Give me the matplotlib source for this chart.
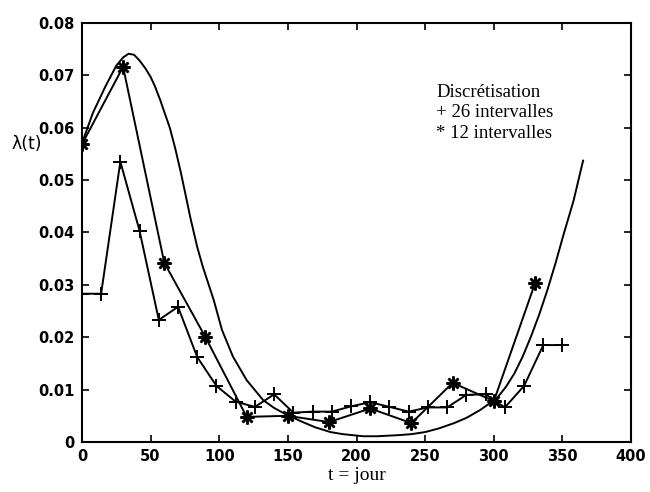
import numpy as np
import matplotlib
matplotlib.use('Agg')
from matplotlib import pyplot as plt

# courbe continue lambda(t)
t_smooth = [0, 8, 17, 25, 30, 34, 38, 42, 46, 50, 53, 57, 60, 64, 68, 72, 75,
            79, 84, 88, 96, 102, 110, 120, 132, 140, 147, 160, 170, 181, 190,
            205, 215, 230, 240, 250, 260, 271, 280, 290, 296, 303, 309, 315,
            321, 327, 333, 339, 345, 351, 358, 365]
lam_smooth = [0.0570, 0.0628, 0.0678, 0.0718, 0.0734, 0.0741, 0.0739, 0.0728,
              0.0714, 0.0697, 0.0680, 0.0653, 0.0630, 0.0600, 0.0560, 0.0515,
              0.0478, 0.0428, 0.0372, 0.0335, 0.0271, 0.0214, 0.0163, 0.0118,
              0.0080, 0.0065, 0.0055, 0.0039, 0.0028, 0.0019, 0.0015, 0.0011,
              0.0011, 0.0013, 0.0015, 0.0019, 0.0026, 0.0036, 0.0046, 0.0061,
              0.0072, 0.0086, 0.0106, 0.0131, 0.0163, 0.0201, 0.0243, 0.0290,
              0.0342, 0.0398, 0.0460, 0.0537]

# discretisation 26 intervalles (+)
t_26 = [0, 14, 28, 42, 56, 70, 84, 98, 112, 126, 140, 154, 168, 182, 196,
        210, 224, 238, 252, 266, 280, 294, 308, 322, 336, 350]
lam_26 = [0.0283, 0.0283, 0.0535, 0.0403, 0.0233, 0.0258, 0.0162, 0.0107,
          0.0077, 0.0067, 0.0091, 0.0056, 0.0058, 0.0058, 0.0068, 0.0076,
          0.0067, 0.0058, 0.0066, 0.0066, 0.0090, 0.0091, 0.0066, 0.0107,
          0.0185, 0.0185]

# discretisation 12 intervalles (*)
t_12 = [0, 30, 60, 90, 120, 150, 180, 210, 240, 270, 300, 330]
lam_12 = [0.0568, 0.0716, 0.0342, 0.0200, 0.0048, 0.0050, 0.0038, 0.0064,
          0.0036, 0.0113, 0.0078, 0.0303]

xticks = [0, 50, 100, 150, 200, 250, 300, 350, 400]
yticks = [0, 0.01, 0.02, 0.03, 0.04, 0.05, 0.06, 0.07, 0.08]
ytick_labels = ['0', '0.01', '0.02', '0.03', '0.04', '0.05', '0.06', '0.07', '0.08']

fig = plt.figure(figsize=(6.5, 4.92), dpi=100)
ax = fig.add_axes([0.126, 0.1016, 0.845, 0.852])

ax.plot(t_smooth, lam_smooth, color='black', linewidth=1.4)
ax.plot(t_26, lam_26, color='black', linewidth=1.4, marker='+',
        markersize=10, markeredgewidth=1.4)
ax.plot(t_12, lam_12, color='black', linewidth=1.4, marker=(8, 2, 0),
        markersize=10, markeredgewidth=1.8)

ax.set_xlim(0, 400)
ax.set_ylim(0, 0.08)
ax.set_xticks(xticks)
ax.set_yticks(yticks)
ax.set_yticklabels(ytick_labels)
ax.tick_params(direction='in', length=5, width=1.2, top=True, right=True,
               labelsize=10.5, pad=5)
for lbl in ax.get_xticklabels() + ax.get_yticklabels():
    lbl.set_fontweight('bold')
for sp in ax.spines.values():
    sp.set_linewidth(1.5)

ax.set_xlabel('t = jour', family='Liberation Serif', fontsize=14, labelpad=2)
ax.set_ylabel('λ(t)', rotation=0, fontsize=12.5, va='center')
ax.yaxis.set_label_coords(-0.1, 0.71)

ax.text(258, 0.0683, 'Discrétisation\n+ 26 intervalles\n* 12 intervalles',
        family='Liberation Serif', fontsize=13.5, va='top', ha='left',
        linespacing=1.25)

plt.savefig('out.png', dpi=100)
